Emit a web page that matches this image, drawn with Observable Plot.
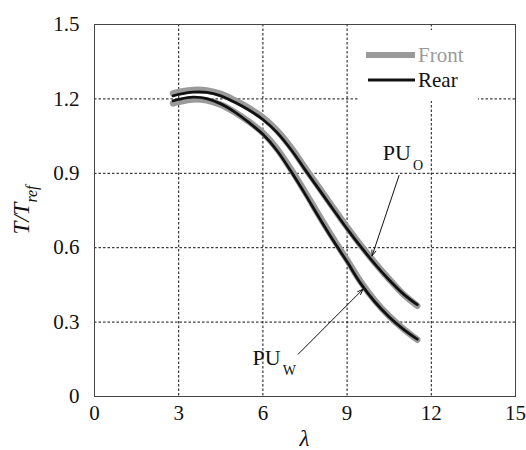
<!DOCTYPE html>
<html><head><meta charset="utf-8">
<script src="https://cdn.jsdelivr.net/npm/d3@7"></script>
<script src="https://cdn.jsdelivr.net/npm/@observablehq/plot@0.6"></script>
<style>
body{margin:0;background:#fff}
#chart{width:526px;height:450px}
#chart svg, #chart svg text{font-family:"Liberation Serif","Times New Roman",serif !important}
</style>
</head><body><div id="chart"></div>
<script>
const xTicks = [0, 3, 6, 9, 12, 15];
const yTicks = [0, 0.3, 0.6, 0.9, 1.2, 1.5];
const lambda = [2.8, 3.0, 3.5, 4.0, 4.5, 5.0, 5.5, 6.0, 6.5, 7.0, 7.5, 8.0, 8.5, 9.0, 9.5, 10.0, 10.5, 11.0, 11.5];
const puORear  = [1.212, 1.218, 1.227, 1.226, 1.212, 1.186, 1.155, 1.117, 1.065, 0.996, 0.915, 0.835, 0.755, 0.676, 0.602, 0.533, 0.470, 0.414, 0.370];
const puOFront = [1.222, 1.228, 1.236, 1.234, 1.220, 1.194, 1.163, 1.125, 1.073, 1.004, 0.922, 0.842, 0.762, 0.683, 0.608, 0.538, 0.473, 0.413, 0.366];
const puWRear  = [1.192, 1.198, 1.207, 1.201, 1.180, 1.147, 1.105, 1.057, 0.992, 0.908, 0.817, 0.722, 0.630, 0.543, 0.453, 0.380, 0.321, 0.272, 0.231];
const puWFront = [1.182, 1.188, 1.198, 1.194, 1.176, 1.146, 1.108, 1.063, 0.999, 0.916, 0.825, 0.730, 0.638, 0.550, 0.460, 0.385, 0.324, 0.273, 0.229];
const seriesNames = ["Front", "Rear"];
const seriesColors = ["#9a9a9a", "#111111"];
const seriesWidths = [6.5, 2.8];
const annotations = [
  {label: "PU", sub: "O", tx: 10.29, ty: 0.951, x1: 10.85, y1: 0.891, x2: 9.89, y2: 0.567},
  {label: "PU", sub: "W", tx: 5.65, ty: 0.127, x1: 7.26, y1: 0.171, x2: 9.57, y2: 0.433}
];

const rows = [];
const curves = [["PU_O", puOFront, puORear], ["PU_W", puWFront, puWRear]];
for (const [name, front, rear] of curves) {
  lambda.forEach((l, i) => {
    rows.push({lambda: l, T: front[i], curve: name, series: "Front"});
    rows.push({lambda: l, T: rear[i], curve: name, series: "Rear"});
  });
}

const plot = Plot.plot({
  width: 526, height: 450,
  marginLeft: 94, marginRight: 11, marginTop: 24, marginBottom: 54,
  style: {fontSize: "21px", color: "#111", background: "#fff"},
  x: {domain: [0, 15], ticks: xTicks, tickSize: 0, tickPadding: 9, label: null},
  y: {domain: [0, 1.5], ticks: yTicks, tickSize: 0, tickPadding: 15, label: null,
      tickFormat: d => d === 0 ? "0" : d.toFixed(1)},
  marks: [
    Plot.gridX(xTicks, {stroke: "#111", strokeOpacity: 1, strokeDasharray: "2.5,2"}),
    Plot.gridY(yTicks, {stroke: "#111", strokeOpacity: 1, strokeDasharray: "2.5,2"}),
    Plot.frame({stroke: "#444", strokeWidth: 1}),
    Plot.line(rows.filter(d => d.series === "Front"), {x: "lambda", y: "T", z: "curve",
      stroke: seriesColors[0], strokeWidth: seriesWidths[0], curve: "catmull-rom"}),
    Plot.line(rows.filter(d => d.series === "Rear"), {x: "lambda", y: "T", z: "curve",
      stroke: seriesColors[1], strokeWidth: seriesWidths[1], curve: "catmull-rom"}),
    Plot.arrow(annotations, {x1: "x1", y1: "y1", x2: "x2", y2: "y2",
      stroke: "#111", strokeWidth: 1, headLength: 9, headAngle: 40})
  ]
});
document.getElementById("chart").appendChild(plot);

const svg = d3.select(plot);
const xs = plot.scale("x"), ys = plot.scale("y");

for (const a of annotations) {
  const t = svg.append("text").attr("x", xs.apply(a.tx)).attr("y", ys.apply(a.ty))
    .attr("text-anchor", "start").attr("font-size", 22).attr("fill", "#111");
  t.append("tspan").text(a.label);
  t.append("tspan").attr("dy", 10).attr("dx", 2).attr("font-size", 14).text(a.sub);
}

const lg = svg.append("g");
lg.append("rect").attr("x", 358).attr("y", 30).attr("width", 120).attr("height", 71).attr("fill", "#fff");
seriesNames.forEach((name, i) => {
  const y = 55 + i * 25;
  lg.append("line").attr("x1", 366 + i * 2).attr("x2", 415).attr("y1", y).attr("y2", y)
    .attr("stroke", seriesColors[i]).attr("stroke-width", i === 0 ? 6 : 3);
  lg.append("text").attr("x", 418).attr("y", y + 7).attr("text-anchor", "start")
    .attr("font-size", 21).attr("fill", i === 0 ? "#9a9a9a" : "#111").text(name);
});

svg.append("text").attr("x", xs.apply(7.5)).attr("y", 446).attr("text-anchor", "middle")
  .attr("font-size", 23).attr("font-style", "italic").attr("fill", "#111").text("λ");
const yl = svg.append("text").attr("transform", `translate(29,${ys.apply(0.75)}) rotate(-90)`)
  .attr("text-anchor", "middle").attr("font-size", 23)
  .attr("font-style", "italic").attr("fill", "#111");
yl.append("tspan").text("T/T");
yl.append("tspan").attr("dy", 8).attr("font-size", 16).text("ref");
</script></body></html>
